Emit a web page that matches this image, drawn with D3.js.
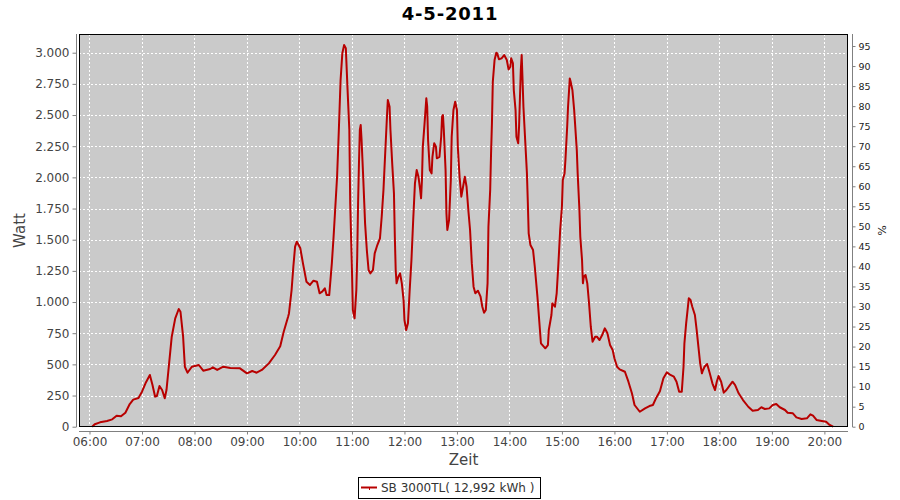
<!DOCTYPE html>
<html>
<head>
<meta charset="utf-8">
<script src="https://cdn.jsdelivr.net/npm/d3@7"></script>
<style>
  html, body { margin: 0; padding: 0; background: #ffffff; }
  svg { display: block; }
  text { font-family: "DejaVu Sans", sans-serif; }
</style>
</head>
<body>
<svg id="chart" width="900" height="500"></svg>
<script>
// ---- data ----
const title = "4-5-2011";
const seriesName = "SB 3000TL( 12,992 kWh )";
const xLabel = "Zeit";
const yLabel = "Watt";
const y2Label = "%";
const xDomain = ["05:48", "20:27"];
const wattDomain = [0, 3150];
const pctDomain = [0, 98];
const hourTicks = ["06:00","07:00","08:00","09:00","10:00","11:00","12:00","13:00","14:00","15:00","16:00","17:00","18:00","19:00","20:00"];
const wattTicks = [0,250,500,750,1000,1250,1500,1750,2000,2250,2500,2750,3000];
const pctTicks = [0,5,10,15,20,25,30,35,40,45,50,55,60,65,70,75,80,85,90,95];

const times = [
  "06:03","06:06","06:12","06:20","06:26","06:31","06:36","06:41","06:46","06:50","06:56",
  "07:00","07:04","07:09","07:12","07:15","07:17","07:20","07:23","07:26","07:28","07:31","07:34","07:38","07:42","07:44","07:47","07:49","07:52","07:57",
  "08:05","08:10","08:18","08:21","08:26","08:33","08:41","08:52",
  "09:00","09:06","09:11","09:17","09:25","09:32","09:38","09:42","09:47","09:48","09:51","09:53","09:55","09:57",
  "10:01","10:04","10:08","10:12","10:16","10:20","10:23","10:26","10:29","10:31","10:34","10:37","10:39","10:41","10:43","10:45","10:47","10:49","10:51","10:53","10:55","10:57","10:58",
  "11:00","11:01","11:03","11:05","11:06","11:07","11:08","11:09","11:10","11:11","11:13","11:15","11:17","11:19","11:21","11:24","11:26","11:29","11:32","11:34","11:36","11:38","11:40","11:41","11:43","11:44","11:46","11:48","11:49","11:50","11:51","11:53","11:55","11:57","11:59",
  "12:00","12:02","12:04","12:06","12:08","12:10","12:12","12:14","12:16","12:18","12:19","12:20","12:21","12:23","12:25","12:26","12:27","12:29","12:31","12:32","12:34","12:36","12:37","12:40","12:42","12:43","12:44","12:45","12:47","12:48","12:49","12:51","12:53","12:54","12:56","12:58",
  "13:00","13:01","13:03","13:05","13:07","13:09","13:11","13:13","13:15","13:17","13:19","13:21","13:24","13:27","13:29","13:31","13:33","13:35","13:36","13:38","13:39","13:40","13:41","13:43","13:45","13:46","13:48","13:51","13:54","13:57","13:59",
  "14:01","14:02","14:04","14:05","14:07","14:08","14:10","14:11","14:13","14:14","14:15","14:16","14:18","14:20","14:21","14:22","14:24","14:27","14:29","14:32","14:34","14:36","14:41","14:44","14:45","14:48","14:49","14:52","14:54","14:56","14:58",
  "15:00","15:01","15:03","15:04","15:06","15:07","15:09","15:10","15:12","15:14","15:15","15:17","15:18","15:20","15:21","15:23","15:24","15:25","15:27","15:29","15:31","15:33","15:35","15:38","15:40","15:43","15:46","15:49","15:52","15:55","15:58",
  "16:00","16:03","16:06","16:12","16:16","16:20","16:23","16:29","16:35","16:40","16:44","16:48","16:52","16:56",
  "17:00","17:04","17:08","17:11","17:14","17:17","17:19","17:20","17:22","17:24","17:25","17:27","17:29","17:32","17:34","17:36","17:38","17:40","17:41","17:43","17:46","17:49","17:52","17:55","17:57","17:59",
  "18:02","18:05","18:08","18:12","18:15","18:18","18:22","18:27","18:33","18:38","18:44","18:48","18:52","18:57",
  "19:01","19:05","19:09","19:15","19:18","19:24","19:28","19:34","19:40","19:44","19:47","19:51","19:57",
  "20:02","20:06","20:10"
];
const watts = [
  0,20,35,46,59,88,83,112,182,217,230,
  281,348,415,334,241,246,326,294,228,294,508,722,869,944,922,722,481,433,481,
  495,449,463,476,455,481,471,468,
  428,447,433,455,508,575,645,762,882,909,1096,1283,1444,1484,
  1431,1310,1163,1137,1171,1163,1070,1083,1110,1056,1056,1310,1524,1764,2005,2380,2781,2995,3061,3035,2700,2380,1792,
  1257,936,869,1096,1363,1792,2112,2380,2420,2299,1978,1631,1417,1257,1230,1257,1390,1457,1511,1684,1898,2193,2486,2620,2567,2380,2112,1872,1524,1257,1150,1203,1230,1150,1016,
  856,776,829,1096,1337,1658,1952,2059,2005,1898,1832,1978,2246,2433,2634,2567,2299,2059,2032,2165,2273,2246,2153,2165,2326,2486,2500,2380,2059,1711,1578,1658,1978,2326,2540,2607,
  2540,2246,2005,1845,1925,2005,1925,1738,1578,1310,1123,1070,1091,1043,962,914,936,1150,1604,1898,2193,2433,2767,2941,3000,2995,2947,2955,2981,2941,2866,
  2887,2955,2914,2700,2540,2326,2273,2406,2861,2981,2781,2567,2299,2032,1805,1551,1457,1417,1283,1043,856,669,629,655,776,896,990,962,1070,1310,1578,
  1764,1978,2032,2139,2406,2567,2794,2767,2700,2540,2433,2219,2032,1738,1524,1337,1150,1203,1217,1150,990,802,682,722,722,695,735,789,749,655,615,
  549,481,460,441,361,268,174,120,147,166,174,235,285,388,
  436,415,401,361,281,281,481,669,829,962,1030,1016,962,896,776,642,508,428,449,481,503,428,348,294,361,407,
  361,273,294,334,361,334,268,214,160,128,134,156,142,147,
  174,182,156,134,112,107,75,62,67,99,88,54,46,
  40,14,0
];

// ---- chart ----
const parseT = d3.timeParse("%H:%M");
const de = d3.formatLocale({decimal: ",", thousands: ".", grouping: [3], currency: ["", " €"]});
const fmtWatt = de.format(",");

const plot = {left: 79, right: 848, top: 34, bottom: 427};
const x = d3.scaleTime().domain(xDomain.map(parseT)).range([plot.left, plot.right]);
const y = d3.scaleLinear().domain(wattDomain).range([426.7, plot.top]);
const y2 = d3.scaleLinear().domain(pctDomain).range([426.7, plot.top]);

const svg = d3.select("#chart");
const axisColor = "#808080";
const labelColor = "#444444";

// plot background
svg.append("rect")
  .attr("x", plot.left).attr("y", plot.top)
  .attr("width", plot.right - plot.left).attr("height", plot.bottom - plot.top)
  .attr("fill", "#cacaca");

// gridlines
const grid = svg.append("g").attr("stroke", "#ffffff").attr("stroke-width", 1).attr("stroke-dasharray", "2,2");
grid.selectAll("line.h").data(wattTicks).join("line")
  .attr("x1", plot.left).attr("x2", plot.right)
  .attr("y1", d => Math.round(y(d)) + 0.5).attr("y2", d => Math.round(y(d)) + 0.5);
grid.selectAll("line.v").data(hourTicks).join("line")
  .attr("y1", plot.top).attr("y2", plot.bottom)
  .attr("x1", d => Math.round(x(parseT(d))) + 0.5).attr("x2", d => Math.round(x(parseT(d))) + 0.5);

// line
const pts = times.map((t, i) => ({t: parseT(t), v: watts[i]}));
svg.append("path")
  .datum(pts)
  .attr("fill", "none")
  .attr("stroke", "#b80000")
  .attr("stroke-width", 2)
  .attr("stroke-linejoin", "round")
  .attr("d", d3.line().x(d => x(d.t)).y(d => y(d.v)));

// frame
svg.append("rect")
  .attr("x", plot.left + 0.5).attr("y", plot.top + 0.5)
  .attr("width", plot.right - plot.left - 1).attr("height", plot.bottom - plot.top - 1)
  .attr("fill", "none").attr("stroke", "#000000").attr("stroke-width", 1);

function styleAxis(g, size) {
  g.select(".domain").attr("stroke", axisColor);
  g.selectAll(".tick line").attr("stroke", axisColor);
  g.selectAll(".tick text").attr("fill", labelColor)
    .style("font-family", "'DejaVu Sans', sans-serif").style("font-size", size);
}

// left axis
const gL = svg.append("g").attr("transform", "translate(76.5,0)")
  .call(d3.axisLeft(y).tickValues(wattTicks).tickFormat(fmtWatt).tickSize(4).tickSizeOuter(0).tickPadding(3));
gL.select(".domain").attr("d", `M0,${plot.top}V${plot.bottom}`);
styleAxis(gL, "12px");

// right axis
const gR = svg.append("g").attr("transform", "translate(852.5,0)")
  .call(d3.axisRight(y2).tickValues(pctTicks).tickSize(3).tickSizeOuter(0).tickPadding(3));
gR.select(".domain").attr("d", `M0,${plot.top}V${plot.bottom}`);
styleAxis(gR, "9.5px");
gR.selectAll(".tick text").attr("fill", "#222");

// bottom axis
const gB = svg.append("g").attr("transform", "translate(0,431.5)")
  .call(d3.axisBottom(x).tickValues(hourTicks.map(parseT)).tickFormat(d3.timeFormat("%H:%M")).tickSize(3).tickSizeOuter(0).tickPadding(3));
gB.select(".domain").attr("d", `M${plot.left},0H${plot.right}`);
styleAxis(gB, "12px");

// titles
svg.append("text").attr("x", 450).attr("y", 20).attr("text-anchor", "middle")
  .style("font-size", "18px").style("font-weight", "bold").attr("fill", "#000")
  .style("letter-spacing", "0.8px")
  .text(title);
svg.append("text").attr("x", (plot.left + plot.right) / 2).attr("y", 465).attr("text-anchor", "middle")
  .style("font-size", "15px").attr("fill", labelColor).text(xLabel);
svg.append("text").attr("transform", `translate(25,${(plot.top + plot.bottom) / 2}) rotate(-90)`)
  .attr("text-anchor", "middle").style("font-size", "15px").attr("fill", labelColor).text(yLabel);
svg.append("text").attr("transform", `translate(878,${(plot.top + plot.bottom) / 2}) rotate(90)`)
  .attr("text-anchor", "middle").style("font-size", "11px").attr("fill", "#222").text(y2Label);

// legend
const lg = svg.append("g");
lg.append("rect").attr("x", 358.5).attr("y", 477.5).attr("width", 182).attr("height", 21)
  .attr("fill", "#ffffff").attr("stroke", "#000000").attr("stroke-width", 1);
lg.append("line").attr("x1", 361).attr("x2", 377).attr("y1", 487.5).attr("y2", 487.5)
  .attr("stroke", "#b80000").attr("stroke-width", 2);
lg.append("line").attr("x1", 369.5).attr("x2", 369.5).attr("y1", 487).attr("y2", 490)
  .attr("stroke", "#b80000").attr("stroke-width", 1);
lg.append("text").attr("x", 381).attr("y", 492).style("font-size", "12px").attr("fill", "#333")
  .text(seriesName);
</script>
</body>
</html>
